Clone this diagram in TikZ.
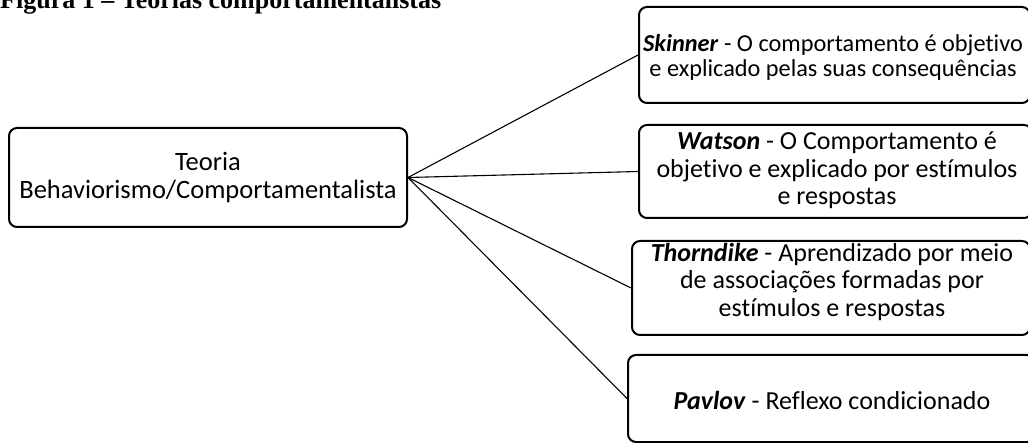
\documentclass[tikz,border=0pt]{standalone}
\usepackage{fontspec}
\setmainfont{Carlito}[Ligatures=NoCommon]
\newfontfamily\titlefont{Liberation Serif}
\begin{document}
\begin{tikzpicture}[x=1pt,y=-1pt,
  box/.style={draw, line width=2pt, rounded corners=8pt, align=center, inner sep=0pt,
    font=\fontsize{26.5}{27.5}\selectfont},
  txt/.style={align=center, inner sep=0pt, font=\fontsize{26}{27.5}\selectfont},
  conn/.style={line width=1.1pt}]
\useasboundingbox (0,0) rectangle (1028,443);
\node[anchor=base west, inner sep=0pt, font=\titlefont\bfseries\fontsize{26}{30}\selectfont] (title) at (0,9) {Figura 1 – Teorias comportamentalistas};
\node[box, minimum width=398pt, minimum height=99pt] (root) at (208,177.5) {Teoria\\Behaviorismo/Comportamentalista};
\node[box, minimum width=391pt, minimum height=96pt] (skinner) at (834.5,55) {};
\node[txt, font=\fontsize{24.3}{25.5}\selectfont] (skinnertext) at (833,57.5) {\textbf{\textit{Skinner}} - O comportamento é objetivo\\e explicado pelas suas consequências};
\node[box, minimum width=393pt, minimum height=93pt] (watson) at (835.5,171.5) {};
\node[txt] (watsontext) at (837,170.5) {\textbf{\textit{Watson}} - O Comportamento é\\objetivo e explicado por estímulos\\e respostas};
\node[box, minimum width=398pt, minimum height=94pt] (thorndike) at (831,288) {};
\node[txt] (thorndiketext) at (832,281.5) {\textbf{\textit{Thorndike}} - Aprendizado por meio\\de associações formadas por\\estímulos e respostas};
\node[box, minimum width=407pt, minimum height=87pt] (pavlov) at (831.5,398.5) {};
\node[txt] (pavlovtext) at (832,400) {\textbf{\textit{Pavlov}} - Reflexo condicionado};
\draw[conn] (root.east) -- (skinner.west);
\draw[conn] (root.east) -- (watson.west);
\draw[conn] (root.east) -- (thorndike.west);
\draw[conn] (root.east) -- (pavlov.west);
\end{tikzpicture}
\end{document}
